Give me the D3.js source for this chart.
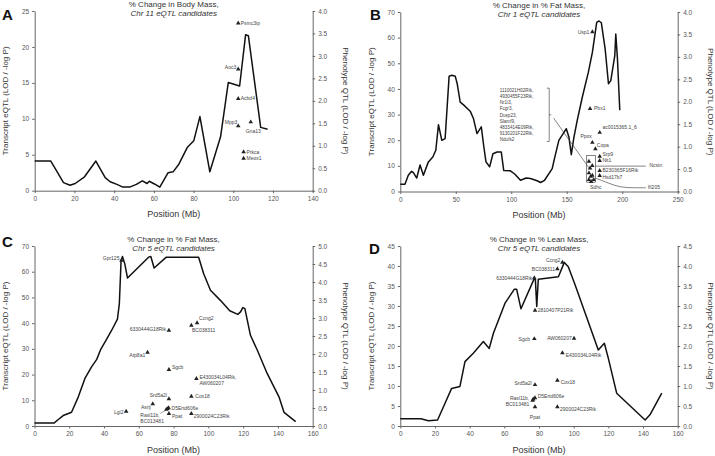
<!DOCTYPE html>
<html><head><meta charset="utf-8">
<script src="https://cdn.jsdelivr.net/npm/d3@7"></script>
<style>
body{margin:0;background:#fff;}
svg text{font-family:"Liberation Sans",Arial,sans-serif;}
</style>
</head><body>
<svg id="chart" width="715" height="456"></svg>
<script>
// ---------------- DATA ----------------
// Phenotype QTL curves: [position Mb, LOD/-log P (right axis)]
const qtlA = [[0,0.66],[8.1,0.66],[10.8,0.46],[14.5,0.18],[17.8,0.12],[20.4,0.16],[25.1,0.31],[30.8,0.66],[35.5,0.29],[38,0.2],[41.4,0.14],[44.4,0.08],[47.8,0.08],[51.2,0.14],[54.2,0.22],[56.6,0.16],[57.7,0.21],[60.3,0.15],[63,0.08],[67.2,0.40],[69.7,0.42],[72.6,0.59],[76.8,0.96],[80.1,1.11],[83.2,1.65],[88.2,0.42],[93.6,1.2],[97.5,2.41],[103.2,2.33],[106.2,3.47],[107.6,3.45],[113.8,1.41],[117.3,1.37]];
const qtlB = [[0,0.16],[4.2,0.16],[7.2,0.36],[10.2,0.45],[11.8,0.42],[14.8,0.30],[17.8,0.59],[20.8,0.36],[25.3,0.66],[29.3,0.77],[32,0.92],[34.4,1.49],[37.4,1.14],[40.4,1.18],[44,2.57],[46.4,2.59],[49.5,2.57],[51.3,2.4],[54,1.99],[57,1.93],[63,1.79],[66,1.62],[69.1,1.29],[73,1.44],[75.1,1.03],[77.2,0.66],[80.5,0.55],[83.5,0.84],[87.2,0.88],[91,0.88],[93.2,0.47],[99.2,0.46],[103.1,0.39],[108.3,0.25],[113.4,0.30],[117.3,0.29],[123.3,0.24],[126.4,0.2],[130,0.25],[136.9,0.51],[139.3,0.77],[142.9,1.14],[149.6,1.4],[152,1.21],[154.1,0.82],[156.5,1.21],[159.5,1.59],[164,2.1],[169.5,2.66],[173.1,3.1],[177,3.77],[179.1,3.8],[181.2,3.76],[184.6,3.18],[187.6,2.4],[189.7,2.47],[193.3,3.03],[194.2,3.51],[195.7,2.96],[197.8,1.81]];
const qtlC = [[0,0.08],[11.2,0.08],[13.7,0.18],[16.5,0.29],[21.3,0.38],[25.2,0.81],[29,1.32],[32.9,1.65],[35.8,1.85],[38.1,2.13],[40.6,2.34],[44.4,2.66],[47.7,2.97],[48.8,3.4],[49.8,4.6],[50.6,4.71],[51.9,4.51],[53.5,4.11],[65.6,4.69],[66.9,4.71],[68.8,4.39],[75.8,4.69],[94.4,4.69],[97.3,4.23],[101.2,3.77],[106.9,3.49],[112.3,3.2],[116.9,3.1],[118.5,3.17],[119.8,3.29],[121,3.26],[124.2,2.52],[128.1,2.11],[133.8,1.46],[140.6,0.81],[143.5,0.38],[150.2,0.12]];
const qtlD = [[0,0.18],[11.9,0.18],[16.2,0.13],[21.5,0.15],[25.8,0.57],[29.6,0.94],[34.4,0.99],[37.3,1.61],[42.1,1.82],[47.9,2.11],[51.3,1.94],[53.7,2.32],[60.4,3.07],[65.8,3.42],[67.1,3.42],[69.6,2.93],[77.3,3.69],[77.9,3.67],[78.7,2.99],[79.6,3.67],[91.2,3.73],[94.6,4.09],[96.9,3.98],[100.8,3.53],[114.2,1.9],[117.7,2.07],[120,1.69],[124.8,0.82],[141.2,0.15],[144,0.28],[150.8,0.82]];

// Transcript eQTL candidates: [gene, position Mb, LOD (left axis)]
const genesA = [["Psmc3ip",102.5,23.3],["Aoc3",102.5,16.9],["Acbd4",102.5,12.8],["Mpp3",102.5,9.0],["Gna13",108.8,9.55],["Prkca",105.2,5.4],["Meox1",105.2,4.5]];
const genesB = [["Usp1",173.1,62.2],["Pbx1",171,32.3],["ac0015365.1_6",179.7,23.0],["Ppox",173.1,19.1],["Copa",175.8,16.6],["Srp9",179.7,13.7],["Nit1",179.7,12.0],["B230365F16Rik",179.7,8.1],["Hsd17b7",179.7,6.2],
  ["",170,11.7],["",171,9.1],["",173,10.1],["",170,7.2],["",171.6,5.9],["",173.1,6.3],["",170,4.6],["",174.3,4.6],["",172,3.8]];
const genesC = [["Gpr125",50,64.4],["6330444G18Rik",77.3,37.2],["Ccng2",93.5,40.1],["BC038311",90.2,39.1],["Atp8a1",65,28.6],["Sgcb",77.3,21.9],["E430034L04Rik,\nAW060207",93.1,18.4],["Srd5a2l",77.3,10.5],["Cox18",90.2,11.5],["Asrij",68,8.6],["Lgi2",52.7,5.7],["D5Ertd606e",77.1,7.0],["Rasl11b,\nBC013481",75.8,6.4],["",76.4,6.7],["Ppat",77.3,4.8],["2900024C23Rik",90.2,4.8]];
const genesD = [["Ccng2",93.5,40.9],["BC038311",90.6,39.25],["6330444G18Rik",77.3,37.0],["2810407P21Rik",77.7,28.9],["Sgcb",77.3,21.8],["AW060207",100.2,21.9],["E430034L04Rik",93.5,18.25],["Srd5a2l",77.7,10.3],["Cox18",90.6,11.4],["D5Ertd606e",77.7,7.0],["Rasl11b,\nBC013481",76.3,6.4],["",76.7,6.7],["Ppat",77.7,4.75],["2900024C23Rik",90.6,4.75]];

// Panel B bracketed gene list
const bracketGenesB = ["1110021H02Rik,","4930455F23Rik,","Nr1i3,","Fcgr3,","Dusp23,","Slamf9,","4833414E09Rik,","9130201F22Rik,","Ndufs2"];

const titles = {
  A:["% Change in Body Mass,","Chr 11 eQTL candidates"],
  B:["% Change in % Fat Mass,","Chr 1 eQTL candidates"],
  C:["% Change in % Fat Mass,","Chr 5 eQTL candidates"],
  D:["% Change in % Lean Mass,","Chr 5 eQTL candidates"]
};
const xTicksA = d3.range(0,141,20), xTicksB = d3.range(0,251,50), xTicksC = d3.range(0,161,20), xTicksD = d3.range(0,161,20);
const lTicksA = d3.range(0,26,5), lTicksB = d3.range(0,71,10), lTicksC = d3.range(0,71,10), lTicksD = d3.range(0,46,5);
const rTicksA = d3.range(0,9).map(i=>i*0.5), rTicksB = d3.range(0,9).map(i=>i*0.5), rTicksC = d3.range(0,11).map(i=>i*0.5), rTicksD = d3.range(0,10).map(i=>i*0.5);

// ---------------- LAYOUT / STYLE ----------------
const panels = [
  {id:"A", x0:34.7, x1:312.7, y0:11, y1:190.7, xMax:140, lMax:25, rMax:4, qtl:qtlA, genes:genesA, xt:xTicksA, lt:lTicksA, rt:rTicksA, letter:[2,20]},
  {id:"B", x0:400.3, x1:677.7, y0:12, y1:191.5, xMax:250, lMax:70, rMax:4, qtl:qtlB, genes:genesB, xt:xTicksB, lt:lTicksB, rt:rTicksB, letter:[370,20]},
  {id:"C", x0:34.5, x1:312.7, y0:246, y1:426, xMax:160, lMax:70, rMax:5, qtl:qtlC, genes:genesC, xt:xTicksC, lt:lTicksC, rt:rTicksC, letter:[2,247]},
  {id:"D", x0:400.3, x1:677.7, y0:246, y1:426, xMax:160, lMax:45, rMax:4.5, qtl:qtlD, genes:genesD, xt:xTicksD, lt:lTicksD, rt:rTicksD, letter:[369,254]}
];
// label placement: [anchor, dx, dy] in px relative to the triangle
const place = {
  A:{"Psmc3ip":["start",2.5,1.7],"Aoc3":["end",-2,-0.5],"Acbd4":["start",2.5,1.7],"Mpp3":["end",-1,-2],"Gna13":["start",-5,10.5],"Prkca":["start",3,1.7],"Meox1":["start",3,1.7]},
  B:{"Usp1":["end",-3,1.7],"Pbx1":["start",4,1.7],"ac0015365.1_6":["start",2.7,-3.3],"Ppox":["end",-0.5,-4.3],"Copa":["start",1.5,-2.3],"Srp9":["start",2.7,0],"Nit1":["start",2.7,1.7],"B230365F16Rik":["start",2.7,1.5],"Hsd17b7":["start",2.7,3.4]},
  C:{"Gpr125":["end",-2,-0.6],"6330444G18Rik":["end",-3,0.4],"Ccng2":["start",2,-2.6],"BC038311":["start",0.7,6.7],"Atp8a1":["end",-2.3,5],"Sgcb":["start",3,-1],"E430034L04Rik,\nAW060207":["start",3,0],"Srd5a2l":["end",-2,-1.6],"Cox18":["start",4,1.4],"Asrij":["end",-2,4.7],"Lgi2":["end",-2.7,2.7],"D5Ertd606e":["start",3,1.7],"Rasl11b,\nBC013481":["start",-26,7.4],"Ppat":["start",3,4.4],"2900024C23Rik":["start",2.3,4.4]},
  D:{"Ccng2":["end",-2,-0.5],"BC038311":["end",-2.3,1.7],"6330444G18Rik":["end",-2,1.7],"2810407P21Rik":["start",2.7,2],"Sgcb":["end",-4.3,1.7],"AW060207":["end",-2.3,1.7],"E430034L04Rik":["start",3.3,4],"Srd5a2l":["end",-3.3,0],"Cox18":["start",3.3,3.4],"D5Ertd606e":["start",2.7,0],"Rasl11b,\nBC013481":["end",-3.3,0],"Ppat":["middle",0,11.7],"2900024C23Rik":["start",2.7,4.4]}
};

const svg = d3.select("#chart");
const axisCol = "#666", txtCol = "#333", tickTxt = "#555";
const tri = d3.symbol().type(d3.symbolTriangle).size(9);

panels.forEach(p => {
  const g = svg.append("g");
  const x = d3.scaleLinear().domain([0,p.xMax]).range([p.x0,p.x1]);
  const yl = d3.scaleLinear().domain([0,p.lMax]).range([p.y1,p.y0]);
  const yr = d3.scaleLinear().domain([0,p.rMax]).range([p.y1,p.y0]);
  p.x=x; p.yl=yl; p.yr=yr;

  const ax = (sel)=>{sel.select(".domain").attr("stroke",axisCol).attr("stroke-width",1);
    sel.selectAll(".tick line").attr("stroke",axisCol);
    sel.selectAll(".tick text").attr("fill",tickTxt).style("font-size","6.5px").style("font-family","Liberation Sans, Arial, sans-serif");};
  g.append("g").attr("transform",`translate(0,${p.y1})`)
    .call(d3.axisBottom(x).tickValues(p.xt).tickSize(2.5).tickSizeOuter(0).tickPadding(3).tickFormat(d3.format("d"))).call(ax);
  g.append("g").attr("transform",`translate(${p.x0},0)`)
    .call(d3.axisLeft(yl).tickValues(p.lt).tickSize(2.5).tickSizeOuter(0).tickPadding(3).tickFormat(d3.format("d"))).call(ax);
  g.append("g").attr("transform",`translate(${p.x1},0)`)
    .call(d3.axisRight(yr).tickValues(p.rt).tickSize(2.5).tickSizeOuter(0).tickPadding(3).tickFormat(d3.format(".1f"))).call(ax);

  // axis titles
  const cx = (p.x0+p.x1)/2, cy=(p.y0+p.y1)/2;
  g.append("text").attr("x",cx).attr("y",p.y1+26.5).attr("text-anchor","middle").attr("fill",txtCol).style("font-size","9px").text("Position (Mb)");
  g.append("text").attr("transform",`translate(${p.x0-26.5},${cy}) rotate(-90)`).attr("text-anchor","middle").attr("fill",txtCol).style("font-size","8px").text("Transcript eQTL (LOD / -log P)");
  g.append("text").attr("transform",`translate(${p.x1+30},${cy}) rotate(90)`).attr("text-anchor","middle").attr("fill",txtCol).style("font-size","8px").text("Phenotype QTL (LOD / -log P)");
  // title
  const t = titles[p.id];
  g.append("text").attr("x",cx).attr("y",p.y0-4).attr("text-anchor","middle").attr("fill",txtCol).style("font-size","8px").text(t[0]);
  g.append("text").attr("x",cx).attr("y",p.y0+5).attr("text-anchor","middle").attr("fill",txtCol).style("font-size","8px").style("font-style","italic").text(t[1]);
  // panel letter
  g.append("text").attr("x",p.letter[0]).attr("y",p.letter[1]).attr("fill","#111").style("font-size","15px").style("font-weight","bold").text(p.id);

  // QTL line
  g.append("path").datum(p.qtl).attr("fill","none").attr("stroke","#111").attr("stroke-width",1.5).attr("stroke-linejoin","round")
    .attr("d", d3.line().x(d=>x(d[0])).y(d=>yr(d[1])));

  // triangles + labels
  p.genes.forEach(([name,mb,lod])=>{
    const px=x(mb), py=yl(lod);
    g.append("path").attr("d",tri).attr("transform",`translate(${px},${py})`).attr("fill","#222");
    if(!name) return;
    const pl = place[p.id][name] || ["start",3,1.7];
    const lines = name.split("\n");
    const tx = g.append("text").attr("x",px+pl[1]).attr("y",py+pl[2]).attr("text-anchor",pl[0]).attr("fill","#444").style("font-size","5px");
    lines.forEach((ln,i)=>tx.append("tspan").attr("x",px+pl[1]).attr("dy",i===0?0:6).text(ln));
    if(p.id==="C" && name.startsWith("Rasl11b")){
      g.append("line").attr("x1",px-1).attr("y1",py+1).attr("x2",px-6).attr("y2",py+4).attr("stroke","#444").attr("stroke-width",0.5);
    }
  });
});

// Panel B annotations
(function(){
  const p = panels[1], x=p.x, y=p.yl, g=svg.append("g");
  const st = s=>s.attr("stroke","#333").attr("stroke-width",0.6).attr("fill","none");
  // box round cluster
  st(g.append("rect").attr("x",x(168)).attr("y",y(14.05)).attr("width",x(176)-x(168)).attr("height",y(3.64)-y(14.05)));
  // bracket
  const bx=x(134.2), bt=y(40.3), bb=y(19.5), bm=y(29.9);
  st(g.append("path").attr("d",`M${bx-2.5},${bt}H${bx}V${bb}H${bx-2.5}M${bx},${bm}H${bx+2}`));
  st(g.append("line").attr("x1",x(138.2)).attr("y1",y(28.6)).attr("x2",x(170.2)).attr("y2",y(9.1)));
  const tx = g.append("text").attr("x",bx-49.5).attr("y",bt+4).attr("fill","#444").style("font-size","4.6px");
  bracketGenesB.forEach((s,i)=>tx.append("tspan").attr("x",bx-49.5).attr("dy",i===0?0:6.1).text(s));
  // Ncstn
  st(g.append("line").attr("x1",x(176)).attr("y1",y(9.9)).attr("x2",x(221.3)).attr("y2",y(9.9)));
  g.append("text").attr("x",x(224.5)).attr("y",y(9.9)+1.2).attr("fill","#444").style("font-size","5px").text("Ncstn");
  // Ifi205
  st(g.append("path").attr("d",d3.line().x(d=>x(d[0])).y(d=>y(d[1])).curve(d3.curveBasis)([[176,5.2],[188,3.2],[198,1.6],[210,1.45],[221.3,1.45]])));
  g.append("text").attr("x",x(223)).attr("y",y(1.45)+1.7).attr("fill","#444").style("font-size","5px").text("Ifi205");
  // Sdhc
  g.append("text").attr("x",x(171)).attr("y",y(1.7)+1.7).attr("fill","#444").style("font-size","5px").text("Sdhc");
})();
</script>
</body></html>
